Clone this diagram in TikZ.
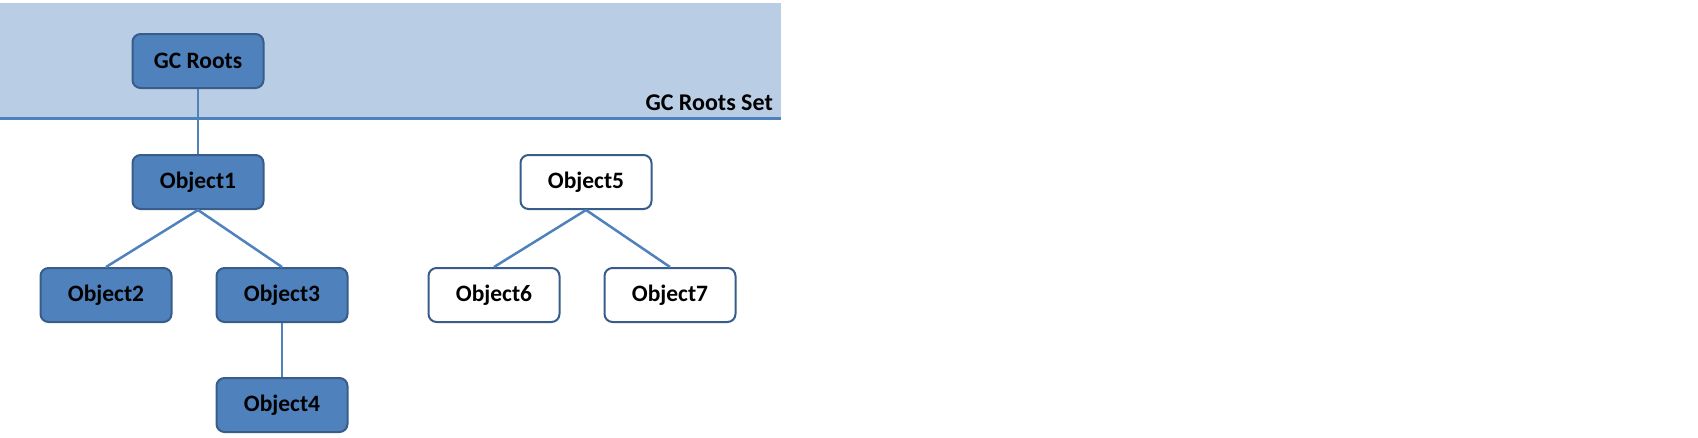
\documentclass[tikz,border=0pt]{standalone}
\usepackage{fontspec}
\setmainfont{Carlito}
\definecolor{bandfill}{RGB}{185,205,229}
\definecolor{nodefill}{RGB}{79,129,189}
\definecolor{nodeline}{RGB}{56,93,138}
\definecolor{linkcol}{RGB}{79,129,189}
\begin{document}
\begin{tikzpicture}[x=1pt,y=-1pt,
  objbox/.style={rectangle, rounded corners=8pt, minimum width=131pt, minimum height=54pt,
    line width=2pt, draw=nodeline, font=\fontsize{23.5}{27}\selectfont\bfseries, inner sep=0pt},
  live/.style={objbox, fill=nodefill, text=black},
  dead/.style={objbox, fill=white, text=black},
  link/.style={draw=linkcol, line width=2.5pt}]
\useasboundingbox (0,0) rectangle (1698,437);
\fill[bandfill] (0,3) rectangle (781,118);
\coordinate (bandL) at (0,118);
\coordinate (bandR) at (781,118);
\draw[draw=linkcol, line width=3pt] (bandL) -- (bandR);
\node[anchor=base east, inner sep=0pt, font=\fontsize{24}{28}\selectfont\bfseries] (setlbl) at (773,110) {GC Roots Set};
\node[live] (gc) at (198,61) {GC Roots};
\node[live] (o1) at (198,182) {Object1};
\node[live] (o2) at (106,295) {Object2};
\node[live] (o3) at (282,295) {Object3};
\node[live] (o4) at (282,405) {Object4};
\node[dead] (o5) at (586,182) {Object5};
\node[dead] (o6) at (494,295) {Object6};
\node[dead] (o7) at (670,295) {Object7};
\draw[link] (gc.south) -- (o1.north);
\draw[link] (o1.south) -- (o2.north);
\draw[link] (o1.south) -- (o3.north);
\draw[link] (o3.south) -- (o4.north);
\draw[link] (o5.south) -- (o6.north);
\draw[link] (o5.south) -- (o7.north);
\end{tikzpicture}
\end{document}
